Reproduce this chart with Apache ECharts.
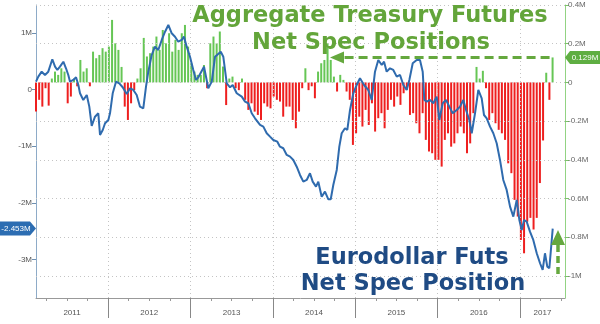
<!DOCTYPE html>
<html><head><meta charset="utf-8">
<script src="https://cdn.jsdelivr.net/npm/echarts@6/dist/echarts.min.js"></script>
<style>html,body{margin:0;padding:0;background:#fff}#c{width:600px;height:324px}</style>
</head><body><div id="c"></div>
<script>
// Eurodollar futures net spec position (millions of contracts), x = decimal year
const lineDates = [2011.126,2011.154,2011.195,2011.235,2011.275,2011.324,2011.357,2011.385,2011.417,2011.458,2011.490,2011.518,2011.539,2011.579,2011.612,2011.640,2011.660,2011.700,2011.742,2011.773,2011.802,2011.842,2011.882,2011.903,2011.936,2011.964,
2012.004,2012.024,2012.057,2012.097,2012.137,2012.178,2012.227,2012.267,2012.307,2012.348,2012.388,2012.428,2012.461,2012.489,2012.530,2012.570,2012.610,2012.652,2012.692,2012.732,2012.773,2012.813,2012.853,2012.894,2012.922,2012.955,2012.995,
2013.035,2013.068,2013.096,2013.165,2013.217,2013.259,2013.299,2013.368,2013.399,2013.441,2013.481,2013.513,2013.562,2013.623,2013.663,2013.703,2013.744,2013.784,2013.845,2013.885,2013.926,2013.966,
2014.006,2014.055,2014.087,2014.127,2014.169,2014.209,2014.249,2014.290,2014.330,2014.370,2014.411,2014.451,2014.484,2014.524,2014.552,2014.593,2014.633,2014.674,2014.703,2014.734,2014.776,2014.807,2014.836,2014.876,2014.904,2014.937,2014.977,
2015.018,2015.058,2015.107,2015.159,2015.200,2015.240,2015.280,2015.322,2015.350,2015.382,2015.422,2015.462,2015.504,2015.544,2015.584,2015.625,2015.657,2015.698,2015.746,2015.786,2015.819,2015.839,2015.868,2015.908,2015.948,2015.989,
2016.021,2016.062,2016.102,2016.142,2016.183,2016.232,2016.272,2016.312,2016.345,2016.385,2016.414,2016.454,2016.494,2016.535,2016.563,2016.596,2016.636,2016.676,2016.717,2016.757,2016.797,2016.838,2016.879,2016.919,2016.960,2016.992,
2017.021,2017.049,2017.081,2017.121,2017.161,2017.203,2017.243,2017.275,2017.303,2017.331,2017.356,2017.397];
const lineValues = [0.138,0.226,0.314,0.256,0.314,0.533,0.402,0.344,0.402,0.490,0.374,0.256,0.138,0.168,0.215,0.079,-0.067,-0.185,-0.097,-0.303,-0.644,-0.480,-0.420,-0.802,-0.714,-0.596,
-0.538,-0.420,-0.067,0.138,0.109,0.039,-0.079,0.021,-0.009,-0.097,-0.303,-0.332,0.049,0.314,0.608,0.755,0.697,0.873,1.019,1.138,0.991,0.931,0.843,0.873,0.931,0.755,0.578,
0.344,0.168,0.215,0.402,0.021,0.138,0.578,0.667,0.578,0.109,0.039,0.079,-0.067,-0.127,-0.215,-0.243,-0.420,-0.508,-0.626,-0.656,-0.772,-0.832,
-0.891,-0.921,-1.009,-1.037,-1.155,-1.185,-1.243,-1.362,-1.508,-1.626,-1.596,-1.478,-1.626,-1.714,-1.626,-1.891,-1.802,-1.937,-1.937,-1.684,-1.420,-1.009,-0.772,-0.684,-0.714,-0.362,-0.067,
0.079,0.198,0.079,-0.009,-0.185,0.314,0.520,0.432,0.490,0.314,0.374,0.344,0.226,0.256,0.079,-0.009,0.168,0.462,0.520,0.520,0.314,-0.185,-0.215,-0.185,-0.243,-0.127,
-0.538,-0.243,-0.185,-0.303,-0.420,-0.362,-0.303,-0.185,-0.362,-0.538,-0.772,-0.420,-0.009,-0.155,-0.450,-0.508,-0.656,-0.772,-0.949,-1.243,-1.596,-1.772,-2.067,-2.243,-1.949,-2.302,
-2.478,-2.302,-2.332,-2.508,-2.654,-2.889,-3.065,-3.183,-2.889,-3.125,-3.153,-2.453];

// Aggregate Treasury futures net spec positions (millions), one bar per two weeks
const barStart = 2011.126;
const barStep = 1 / 26;
const barValues = [-0.15,-0.09,-0.125,-0.03,-0.12,0.02,0.056,0.039,0.073,0.056,
-0.108,-0.073,0.02,-0.02,0.116,0.056,0.073,-0.02,0.159,0.125,
0.142,0.177,0.159,0.185,0.323,0.202,0.168,0.08,-0.125,-0.194,
-0.108,-0.04,0.02,0.073,0.23,0.134,0.151,0.185,0.237,0.168,
0.271,0.202,0.254,0.159,0.22,0.168,0.254,0.297,0.185,0.099,
0.056,0.039,0.039,0.09,-0.03,0.202,0.237,0.202,0.263,0.082,
-0.117,0.02,0.03,-0.03,-0.04,0.02,-0.09,-0.142,-0.108,-0.151,
-0.168,-0.194,-0.108,-0.125,-0.134,-0.073,-0.09,-0.099,-0.177,-0.125,
-0.125,-0.194,-0.237,-0.151,-0.03,0.073,-0.04,-0.02,-0.082,0.056,
0.099,0.116,0.202,0.116,0.03,-0.047,0.039,0.013,-0.047,-0.09,
-0.323,-0.263,-0.177,-0.228,-0.142,-0.22,-0.108,-0.254,-0.185,-0.159,
-0.237,-0.142,-0.09,-0.125,-0.073,-0.116,-0.056,-0.039,-0.168,-0.159,
-0.211,-0.263,-0.159,-0.297,-0.357,-0.366,-0.4,-0.4,-0.435,-0.297,
-0.263,-0.332,-0.315,-0.263,-0.228,-0.263,-0.366,-0.315,-0.159,0.08,
0.02,0.06,-0.03,-0.194,-0.159,-0.211,-0.245,-0.263,-0.297,-0.418,
-0.469,-0.607,-0.693,-0.814,-0.883,-0.72,-0.70,-0.76,-0.70,-0.52,
-0.30,0.05,-0.09,0.129];

const yearTicks = [2012, 2013, 2014, 2015, 2016, 2017];
const yearLabelPos = [2011.563, 2012.5, 2013.5, 2014.5, 2015.5, 2016.5, 2017.273];
const quarterTicks = [2011.25,2011.5,2011.75,2012.25,2012.5,2012.75,2013.25,2013.5,2013.75,2014.25,2014.5,2014.75,2015.25,2015.5,2015.75,2016.25,2016.5,2016.75,2017.25,2017.5];
const leftTicks = [1, 0, -1, -2, -3];
const rightTicks = [0.4, 0.2, 0, -0.2, -0.4, -0.6, -0.8, -1];
const titleTop = ['Aggregate Treasury Futures', 'Net Spec Positions'];
const titleBottom = ['Eurodollar Futs', 'Net Spec Position'];

const X_MIN = 2011.126, X_MAX = 2017.546;
const GREEN = '#66c655', RED = '#ee1f1f', BLUE = '#2f6bae';
const GRIDC = '#c4c4c4';
const fmtM = v => v === 0 ? '0' : (+v.toFixed(1)) + 'M';

const chart = echarts.init(document.getElementById('c'), null, {renderer: 'canvas'});
const lineData = lineDates.map((d, i) => [d, lineValues[i]]);
const barData = barValues.map((v, i) => [barStart + i * barStep, v]);
const gridLines = yearTicks.map(v => ({xAxis: v})).concat(rightTicks.map(v => ({yAxis: v})));

chart.setOption({
  animation: false,
  backgroundColor: '#fff',
  grid: {left: 36, right: 35, top: 5, bottom: 26, outerBoundsMode: 'none', containLabel: false},
  xAxis: [
    {type: 'value', position: 'bottom', min: X_MIN, max: X_MAX,
     axisLine: {show: true, onZero: false, lineStyle: {color: '#999', width: 1}},
     axisTick: {show: true, customValues: yearTicks, length: 20, lineStyle: {color: '#888'}},
     axisLabel: {show: false},
     splitLine: {show: false}},
    {type: 'value', position: 'bottom', min: X_MIN, max: X_MAX,
     axisLine: {show: false, onZero: false}, axisTick: {show: false}, splitLine: {show: false},
     axisLabel: {show: true, customValues: yearLabelPos, margin: 11, color: '#555', fontSize: 8,
       fontFamily: 'Liberation Sans', formatter: v => String(Math.floor(v))}},
    {type: 'value', position: 'bottom', min: X_MIN, max: X_MAX,
     axisLine: {show: false, onZero: false}, splitLine: {show: false}, axisLabel: {show: false},
     axisTick: {show: true, customValues: quarterTicks, length: 3, lineStyle: {color: '#999'}}}
  ],
  yAxis: [
    {type: 'value', position: 'left', min: -3.678, max: 1.49,
     axisLine: {show: true, onZero: false, lineStyle: {color: '#8eabc8'}},
     axisTick: {show: true, customValues: leftTicks, length: 4, lineStyle: {color: '#6e8fb0'}},
     axisLabel: {customValues: leftTicks, formatter: fmtM, color: '#555', fontSize: 8, margin: 4, fontFamily: 'Liberation Sans'},
     splitLine: {show: false}},
    {type: 'value', position: 'right', min: -1.114, max: 0.40,
     axisLine: {show: true, onZero: false, lineStyle: {color: '#92d383'}},
     axisTick: {show: true, customValues: rightTicks, length: 4, lineStyle: {color: '#7cc46a'}},
     axisLabel: {customValues: rightTicks, formatter: fmtM, color: '#666', fontSize: 8, margin: 3, fontFamily: 'Liberation Sans'},
     splitLine: {show: false}}
  ],
  series: [
    {type: 'line', xAxisIndex: 0, yAxisIndex: 1, data: [], z: 1, silent: true,
     markLine: {silent: true, symbol: 'none', label: {show: false},
       lineStyle: {color: GRIDC, type: [1, 3], width: 1}, data: gridLines}},
    {type: 'bar', xAxisIndex: 0, yAxisIndex: 1, data: barData, barWidth: 2, z: 2,
     itemStyle: {color: p => p.value[1] >= 0 ? GREEN : RED}},
    {type: 'line', xAxisIndex: 0, yAxisIndex: 0, data: lineData, symbol: 'none',
     lineStyle: {color: BLUE, width: 2}, z: 5}
  ]
});

const lastEuro = lineValues[lineValues.length - 1];
const lastTsy = barValues[barValues.length - 1];
const yE = chart.convertToPixel({yAxisIndex: 0}, lastEuro);
const yT = chart.convertToPixel({yAxisIndex: 1}, lastTsy);
const xEnd = chart.convertToPixel({xAxisIndex: 0}, barData[barData.length - 1][0]);
const ARROW = '#65a83e';
const titleFont = 'bold 22.5px "DejaVu Sans"';

chart.setOption({
  graphic: [
    {type: 'text', x: 370, y: 16, z: 20, style: {text: titleTop[0], font: titleFont, fill: '#63a53a', align: 'center', verticalAlign: 'middle'}},
    {type: 'text', x: 371, y: 43, z: 20, style: {text: titleTop[1], font: titleFont, fill: '#63a53a', align: 'center', verticalAlign: 'middle'}},
    {type: 'text', x: 412, y: 258, z: 20, style: {text: titleBottom[0], font: titleFont, fill: '#1f4b84', align: 'center', verticalAlign: 'middle'}},
    {type: 'text', x: 413, y: 284, z: 20, style: {text: titleBottom[1], font: titleFont, fill: '#1f4b84', align: 'center', verticalAlign: 'middle'}},
    {type: 'line', z: 15, shape: {x1: xEnd - 3, y1: yT, x2: 343, y2: yT},
     style: {stroke: ARROW, lineWidth: 3, lineDash: [9, 5]}},
    {type: 'polygon', z: 15, shape: {points: [[330, yT], [344, yT - 6], [344, yT + 6]]}, style: {fill: ARROW}},
    {type: 'line', z: 15, shape: {x1: 558, y1: 274, x2: 558, y2: 244},
     style: {stroke: ARROW, lineWidth: 3.5, lineDash: [7, 4]}},
    {type: 'polygon', z: 15, shape: {points: [[558, 230], [551, 245], [565, 245]]}, style: {fill: ARROW}},
    {type: 'polygon', z: 20, shape: {points: [[0, yE - 7], [30, yE - 7], [36, yE], [30, yE + 7], [0, yE + 7]]}, style: {fill: '#2c6db2'}},
    {type: 'text', x: 16, y: yE, z: 21, style: {text: (+lastEuro.toFixed(3)) + 'M', font: '8px "Liberation Sans"', fill: '#fff', align: 'center', verticalAlign: 'middle'}},
    {type: 'polygon', z: 20, shape: {points: [[565, yT], [570, yT - 6.5], [600, yT - 6.5], [600, yT + 6.5], [570, yT + 6.5]]}, style: {fill: '#5fae42'}},
    {type: 'text', x: 585, y: yT, z: 21, style: {text: (+lastTsy.toFixed(3)) + 'M', font: '8px "Liberation Sans"', fill: '#fff', align: 'center', verticalAlign: 'middle'}}
  ]
});
</script>
</body></html>
